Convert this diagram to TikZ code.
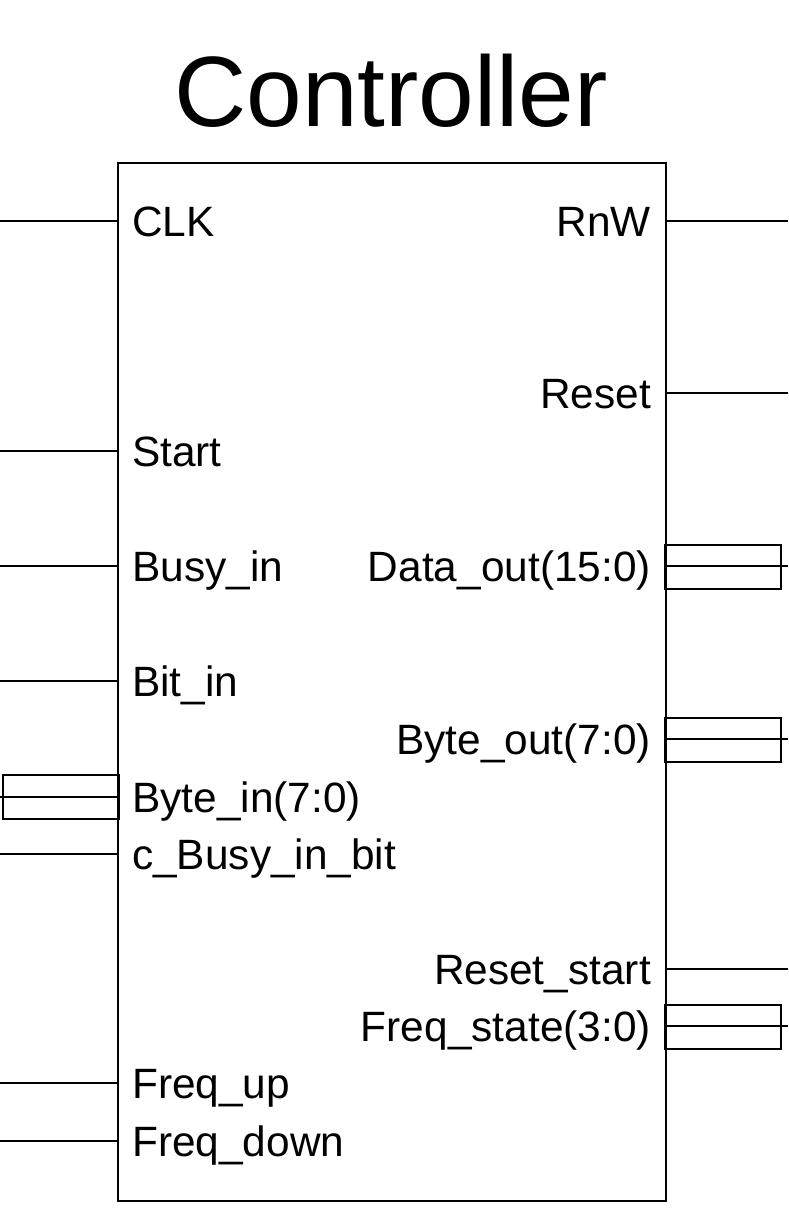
\documentclass[tikz,border=0pt]{standalone}
\usepackage{fontspec}
\setmainfont{Liberation Sans}
\begin{document}
\begin{tikzpicture}[x=1pt,y=-1pt,
  wire/.style={line width=1.3pt},
  lbl/.style={font=\fontsize{42.4}{50}\selectfont, inner sep=0pt},
  busbox/.style={draw, line width=1.3pt, minimum width=116pt, minimum height=44pt, inner sep=0pt}]
\useasboundingbox (0,0) rectangle (788,1216);
\node[font=\fontsize{100}{120}\selectfont, inner sep=0pt, anchor=base] (title) at (391,126) {Controller};
\node[draw, line width=1.3pt, minimum width=548pt, minimum height=1038pt, inner sep=0pt] (ctrl) at (392,682) {};
% left pins
\foreach \n/\y/\t in {clk/221/CLK, start/451/Start, busy/566/Busy\_in, bit/681/Bit\_in, byte/797/Byte\_in(7:0), cbusy/854/c\_Busy\_in\_bit, fup/1083/Freq\_up, fdown/1141/Freq\_down}{
  \coordinate (p\n) at (118,\y);
  \coordinate (e\n) at (0,\y);
  \node[lbl, anchor=base west] (l\n) at (132,\y+15) {\t};
}
\foreach \n in {clk,start,busy,bit,cbusy,fup,fdown}{ \draw[wire] (p\n) -- (e\n); }
\node[busbox] (bbyte) at (61,797) {};
\draw[wire] (pbyte) -- (ebyte);
% right pins
\foreach \n/\y/\t in {rnw/221/RnW, reset/393/Reset, dout/566/Data\_out(15:0), bout/739/Byte\_out(7:0), rstart/969/Reset\_start, fstate/1026/Freq\_state(3:0)}{
  \coordinate (p\n) at (666,\y);
  \coordinate (e\n) at (788,\y);
  \node[lbl, anchor=base east] (l\n) at (651,\y+15) {\t};
}
\foreach \n in {rnw,reset,rstart}{ \draw[wire] (p\n) -- (e\n); }
\node[busbox] (bdout) at (723,567) {};
\node[busbox] (bbout) at (723,740) {};
\node[busbox] (bfstate) at (723,1027) {};
\foreach \n in {dout,bout,fstate}{ \draw[wire] (p\n) -- (e\n); }
\end{tikzpicture}
\end{document}
